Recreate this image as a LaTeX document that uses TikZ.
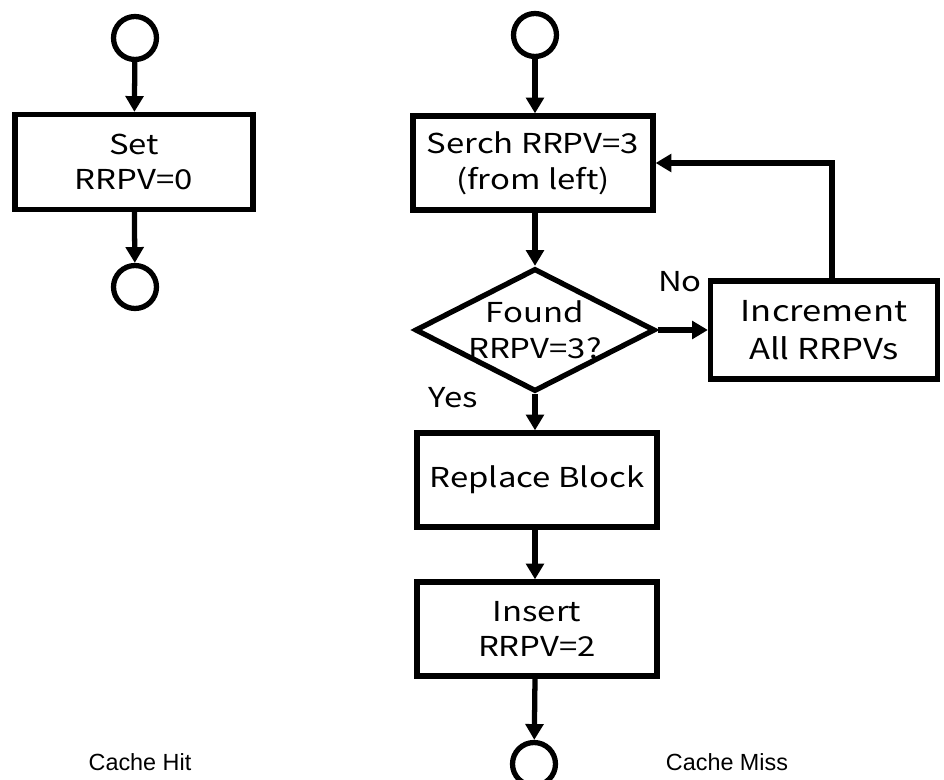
\documentclass[tikz,border=0pt]{standalone}
\usepackage{fontspec}
\setmainfont[FakeStretch=1.2]{Noto Sans CJK JP}
\newfontfamily\capfont{Liberation Sans}
\usetikzlibrary{positioning, arrows.meta, shapes.geometric}

\begin{document}
\begin{tikzpicture}[
    x=0.02cm, y=-0.02cm,
    >={Triangle[length=9pt,width=10pt]},
    line width=3pt,
    terminal/.style={
        circle, draw=black, minimum size=0.86cm, inner sep=0pt
    },
    process/.style={
        rectangle, draw=black, minimum width=4.8cm, minimum height=1.88cm,
        align=center, inner sep=2pt,
        font=\fontsize{15.6}{20.4}\selectfont
    },
    decision/.style={
        diamond, draw=black, minimum width=4.8cm, minimum height=2.46cm,
        inner sep=0pt
    },
    dtext/.style={align=center, inner sep=0pt, font=\fontsize{15.6}{20.4}\selectfont},
    caption/.style={font=\capfont\fontsize{13.3}{16}\selectfont},
    label/.style={font=\fontsize{15.6}{18}\selectfont},
    arr/.style={->},
]
\useasboundingbox (0,0) rectangle (944,780);

% Cache hit path
\node[terminal] (hitstart) at (135,38) {};
\node[process, minimum width=4.76cm, minimum height=1.9cm] (hitset) at (134,162) {Set\\RRPV=0};
\node[terminal] (hitend) at (135,287) {};

% Cache miss path
\node[terminal] (missstart) at (535,35) {};
\node[process] (search) at (533,163) {Serch RRPV=3\\(from left)};
\node[decision] (found) at (535,330) {};
\node[dtext] (foundtext) at (found.center) {Found\\RRPV=3?};
\node[process, minimum width=4.54cm, minimum height=1.96cm,
    font=\fontsize{16.4}{21.5}\selectfont] (incr) at (824,330) {Increment\\All RRPVs};
\node[process] (replace) at (537,480) {Replace Block};
\node[process] (insert) at (537,629) {Insert\\RRPV=2};
\node[terminal] (missend) at (534,764) {};

% Branch labels
\node[label] (nolbl) at (680,282) {No};
\node[label] (yeslbl) at (453,398) {Yes};

% Captions
\node[caption] (hitcap) at (140,762) {Cache Hit};
\node[caption] (misscap) at (727,762) {Cache Miss};

% Loop lane
\coordinate (loop_up) at ([xshift=0.16cm]incr.north);
\coordinate (loop_turn) at (loop_up |- search.east);

% Arrows
\draw[arr] (hitstart) -- (hitset);
\draw[arr] (hitset) -- (hitend);

\draw[arr] (missstart) -- (missstart |- search.north);
\draw[arr] (found.north |- search.south) -- (found.north);
\draw[arr] (found.east) -- (incr.west);
\draw[arr] (loop_up) -- (loop_turn) -- (search.east);
\draw[arr] (found.south) -- (found.south |- replace.north);
\draw[arr] (found.south |- replace.south) -- (found.south |- insert.north);
\draw[arr] (found.south |- insert.south) -- (missend);

\end{tikzpicture}
\end{document}
